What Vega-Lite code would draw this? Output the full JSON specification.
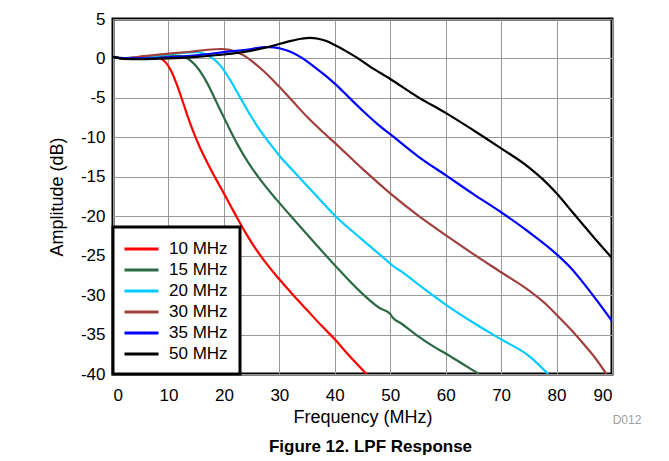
{
  "$schema": "https://vega.github.io/schema/vega-lite/v6.json",
  "autosize": {"type": "none"},
  "width": 499,
  "height": 355,
  "padding": {"left": 113, "top": 19, "right": 57, "bottom": 87},
  "background": "white",
  "config": {
    "font": "Liberation Sans",
    "view": {"stroke": "black", "strokeWidth": 3},
    "axis": {"gridColor": "#999999", "gridWidth": 1, "gridOpacity": 1, "domain": false, "ticks": false, "labelFontSize": 17, "labelColor": "black", "titleFontSize": 18, "titleFontWeight": "normal", "titleColor": "black", "labelFont": "Liberation Sans", "titleFont": "Liberation Sans", "labelOverlap": false}
  },
  "title": {"text": "Figure 12. LPF Response", "orient": "bottom", "anchor": "middle", "frame": "group", "fontSize": 17, "fontWeight": "bold", "color": "black", "offset": 13, "dx": 8},
  "datasets": {
    "curves": [
      {"s":"10 MHz","f":0,"a":0.2},{"s":"10 MHz","f":2,"a":0.0},{"s":"10 MHz","f":4,"a":0.1},{"s":"10 MHz","f":6,"a":0.3},{"s":"10 MHz","f":7.5,"a":0.3},{"s":"10 MHz","f":8.5,"a":0.05},{"s":"10 MHz","f":9.5,"a":-0.5},{"s":"10 MHz","f":10.5,"a":-1.6},{"s":"10 MHz","f":11.5,"a":-3.3},{"s":"10 MHz","f":12.5,"a":-5.3},{"s":"10 MHz","f":13.5,"a":-7.4},{"s":"10 MHz","f":14.5,"a":-9.3},{"s":"10 MHz","f":15.5,"a":-11.0},{"s":"10 MHz","f":16.5,"a":-12.5},{"s":"10 MHz","f":17.5,"a":-13.9},{"s":"10 MHz","f":18.5,"a":-15.2},{"s":"10 MHz","f":20,"a":-17.1},{"s":"10 MHz","f":22,"a":-19.7},{"s":"10 MHz","f":24,"a":-22.2},{"s":"10 MHz","f":26,"a":-24.4},{"s":"10 MHz","f":28,"a":-26.3},{"s":"10 MHz","f":30,"a":-28.0},{"s":"10 MHz","f":32.5,"a":-30.0},{"s":"10 MHz","f":35,"a":-31.9},{"s":"10 MHz","f":37.5,"a":-33.8},{"s":"10 MHz","f":40,"a":-35.6},{"s":"10 MHz","f":42.5,"a":-37.6},{"s":"10 MHz","f":45.7,"a":-40},
      {"s":"15 MHz","f":0,"a":0.2},{"s":"15 MHz","f":2,"a":0.0},{"s":"15 MHz","f":5,"a":0.05},{"s":"15 MHz","f":8,"a":0.2},{"s":"15 MHz","f":10,"a":0.3},{"s":"15 MHz","f":12,"a":0.3},{"s":"15 MHz","f":13.3,"a":0.05},{"s":"15 MHz","f":14.2,"a":-0.4},{"s":"15 MHz","f":15.1,"a":-1.05},{"s":"15 MHz","f":16.9,"a":-3},{"s":"15 MHz","f":18.7,"a":-5.6},{"s":"15 MHz","f":20.5,"a":-8.2},{"s":"15 MHz","f":22.3,"a":-10.7},{"s":"15 MHz","f":24.4,"a":-13.2},{"s":"15 MHz","f":26.5,"a":-15.3},{"s":"15 MHz","f":29.5,"a":-17.9},{"s":"15 MHz","f":33.1,"a":-20.8},{"s":"15 MHz","f":36.5,"a":-23.5},{"s":"15 MHz","f":40,"a":-26.2},{"s":"15 MHz","f":44.5,"a":-29.5},{"s":"15 MHz","f":48,"a":-31.6},{"s":"15 MHz","f":50,"a":-32.4},{"s":"15 MHz","f":50.4,"a":-32.8},{"s":"15 MHz","f":52,"a":-33.6},{"s":"15 MHz","f":55,"a":-35.2},{"s":"15 MHz","f":58,"a":-36.6},{"s":"15 MHz","f":60,"a":-37.4},{"s":"15 MHz","f":63,"a":-38.7},{"s":"15 MHz","f":66,"a":-40},
      {"s":"20 MHz","f":0,"a":0.2},{"s":"20 MHz","f":2,"a":0.05},{"s":"20 MHz","f":4,"a":0.1},{"s":"20 MHz","f":7,"a":0.3},{"s":"20 MHz","f":10,"a":0.5},{"s":"20 MHz","f":13,"a":0.75},{"s":"20 MHz","f":15,"a":0.8},{"s":"20 MHz","f":16,"a":0.7},{"s":"20 MHz","f":17,"a":0.4},{"s":"20 MHz","f":18,"a":0},{"s":"20 MHz","f":19.3,"a":-0.85},{"s":"20 MHz","f":21.1,"a":-2.7},{"s":"20 MHz","f":22.9,"a":-4.9},{"s":"20 MHz","f":24.7,"a":-7.1},{"s":"20 MHz","f":26.5,"a":-9.1},{"s":"20 MHz","f":28.3,"a":-10.8},{"s":"20 MHz","f":30.1,"a":-12.4},{"s":"20 MHz","f":33.1,"a":-14.7},{"s":"20 MHz","f":36,"a":-16.9},{"s":"20 MHz","f":40,"a":-19.9},{"s":"20 MHz","f":45,"a":-23.0},{"s":"20 MHz","f":50,"a":-26.0},{"s":"20 MHz","f":50.4,"a":-26.25},{"s":"20 MHz","f":52,"a":-27.0},{"s":"20 MHz","f":55,"a":-28.6},{"s":"20 MHz","f":60,"a":-31.2},{"s":"20 MHz","f":65,"a":-33.5},{"s":"20 MHz","f":70,"a":-35.6},{"s":"20 MHz","f":75,"a":-37.7},{"s":"20 MHz","f":78.5,"a":-40},
      {"s":"30 MHz","f":0,"a":0.2},{"s":"30 MHz","f":2,"a":0.05},{"s":"30 MHz","f":4,"a":0.15},{"s":"30 MHz","f":7,"a":0.4},{"s":"30 MHz","f":10,"a":0.6},{"s":"30 MHz","f":14,"a":0.85},{"s":"30 MHz","f":17,"a":1.1},{"s":"30 MHz","f":19.5,"a":1.2},{"s":"30 MHz","f":21,"a":1.1},{"s":"30 MHz","f":22.5,"a":0.75},{"s":"30 MHz","f":24,"a":0.2},{"s":"30 MHz","f":25.5,"a":-0.6},{"s":"30 MHz","f":27,"a":-1.5},{"s":"30 MHz","f":28.5,"a":-2.5},{"s":"30 MHz","f":30,"a":-3.6},{"s":"30 MHz","f":32.5,"a":-5.5},{"s":"30 MHz","f":35,"a":-7.4},{"s":"30 MHz","f":37.5,"a":-9.1},{"s":"30 MHz","f":40,"a":-10.7},{"s":"30 MHz","f":45,"a":-14.0},{"s":"30 MHz","f":50,"a":-17.1},{"s":"30 MHz","f":55,"a":-19.9},{"s":"30 MHz","f":60,"a":-22.4},{"s":"30 MHz","f":65,"a":-24.8},{"s":"30 MHz","f":70,"a":-27.1},{"s":"30 MHz","f":75,"a":-29.4},{"s":"30 MHz","f":78,"a":-31.1},{"s":"30 MHz","f":80,"a":-32.5},{"s":"30 MHz","f":82.5,"a":-34.3},{"s":"30 MHz","f":85,"a":-36.3},{"s":"30 MHz","f":87,"a":-38.0},{"s":"30 MHz","f":89,"a":-40},
      {"s":"35 MHz","f":0,"a":0.2},{"s":"35 MHz","f":2,"a":0},{"s":"35 MHz","f":5,"a":0},{"s":"35 MHz","f":10,"a":0.15},{"s":"35 MHz","f":15,"a":0.4},{"s":"35 MHz","f":20,"a":0.8},{"s":"35 MHz","f":25,"a":1.2},{"s":"35 MHz","f":27.5,"a":1.45},{"s":"35 MHz","f":29,"a":1.4},{"s":"35 MHz","f":30.5,"a":1.2},{"s":"35 MHz","f":32,"a":0.85},{"s":"35 MHz","f":34,"a":0.1},{"s":"35 MHz","f":36,"a":-0.9},{"s":"35 MHz","f":38,"a":-2.0},{"s":"35 MHz","f":40,"a":-3.2},{"s":"35 MHz","f":42.5,"a":-4.9},{"s":"35 MHz","f":45,"a":-6.6},{"s":"35 MHz","f":47.5,"a":-8.2},{"s":"35 MHz","f":50,"a":-9.6},{"s":"35 MHz","f":55,"a":-12.4},{"s":"35 MHz","f":60,"a":-14.8},{"s":"35 MHz","f":65,"a":-17.2},{"s":"35 MHz","f":70,"a":-19.5},{"s":"35 MHz","f":75,"a":-22.0},{"s":"35 MHz","f":80,"a":-24.8},{"s":"35 MHz","f":82.5,"a":-26.5},{"s":"35 MHz","f":85,"a":-28.6},{"s":"35 MHz","f":87.5,"a":-30.9},{"s":"35 MHz","f":90,"a":-33.3},
      {"s":"50 MHz","f":0,"a":0.2},{"s":"50 MHz","f":2,"a":-0.05},{"s":"50 MHz","f":5,"a":-0.1},{"s":"50 MHz","f":10,"a":0},{"s":"50 MHz","f":15,"a":0.2},{"s":"50 MHz","f":20,"a":0.5},{"s":"50 MHz","f":25,"a":1},{"s":"50 MHz","f":28.3,"a":1.5},{"s":"50 MHz","f":31.9,"a":2.2},{"s":"50 MHz","f":34,"a":2.5},{"s":"50 MHz","f":35.5,"a":2.6},{"s":"50 MHz","f":37,"a":2.5},{"s":"50 MHz","f":38.5,"a":2.2},{"s":"50 MHz","f":40,"a":1.7},{"s":"50 MHz","f":42.1,"a":0.9},{"s":"50 MHz","f":44,"a":0.1},{"s":"50 MHz","f":46.3,"a":-1.0},{"s":"50 MHz","f":50,"a":-2.6},{"s":"50 MHz","f":55,"a":-4.9},{"s":"50 MHz","f":60,"a":-6.9},{"s":"50 MHz","f":65,"a":-9.1},{"s":"50 MHz","f":70,"a":-11.4},{"s":"50 MHz","f":75,"a":-13.8},{"s":"50 MHz","f":77.5,"a":-15.3},{"s":"50 MHz","f":80,"a":-17.1},{"s":"50 MHz","f":83,"a":-19.6},{"s":"50 MHz","f":86.5,"a":-22.5},{"s":"50 MHz","f":90,"a":-25.3}
    ],
    "note": [{"label": "D012", "f": 90, "a": -40}]
  },
  "encoding": {
    "x": {"field": "f", "type": "quantitative", "scale": {"domain": [0, 90], "nice": false}, "axis": {"values": [0,10,20,30,40,50,60,70,80,90], "title": "Frequency (MHz)", "labelPadding": 13, "titlePadding": 5}},
    "y": {"field": "a", "type": "quantitative", "scale": {"domain": [-40, 5], "nice": false}, "axis": {"values": [-40,-35,-30,-25,-20,-15,-10,-5,0,5], "labelExpr": "'' + datum.value", "title": "Amplitude (dB)", "labelPadding": 8, "titlePadding": 14}}
  },
  "layer": [
    {
      "data": {"name": "curves"},
      "mark": {"type": "line", "interpolate": "monotone", "strokeWidth": 2.2, "clip": true},
      "encoding": {
        "color": {"field": "s", "type": "nominal", "scale": {"domain": ["10 MHz","15 MHz","20 MHz","30 MHz","35 MHz","50 MHz"], "range": ["#ff0000","#2c6a46","#00ccff","#a0403c","#0000ff","#000000"]},
          "legend": {"title": null, "orient": "bottom-left", "offset": 0, "fillColor": "white", "strokeColor": "black", "padding": 12, "labelFontSize": 17, "labelColor": "black", "labelOffset": 17.5, "symbolOffset": 6.5, "symbolType": "M-2,0H2", "symbolSize": 289, "symbolStrokeWidth": 3, "rowPadding": 3,
            "encode": {"legend": {"update": {"strokeWidth": {"value": 3}}}}}},
        "order": {"field": "s"}
      }
    },
    {
      "data": {"name": "note"},
      "mark": {"type": "text", "fontSize": 12, "color": "#a0a0a0", "align": "center", "baseline": "middle", "dx": 15, "dy": 46},
      "encoding": {
        "text": {"field": "label"}
      }
    }
  ]
}
